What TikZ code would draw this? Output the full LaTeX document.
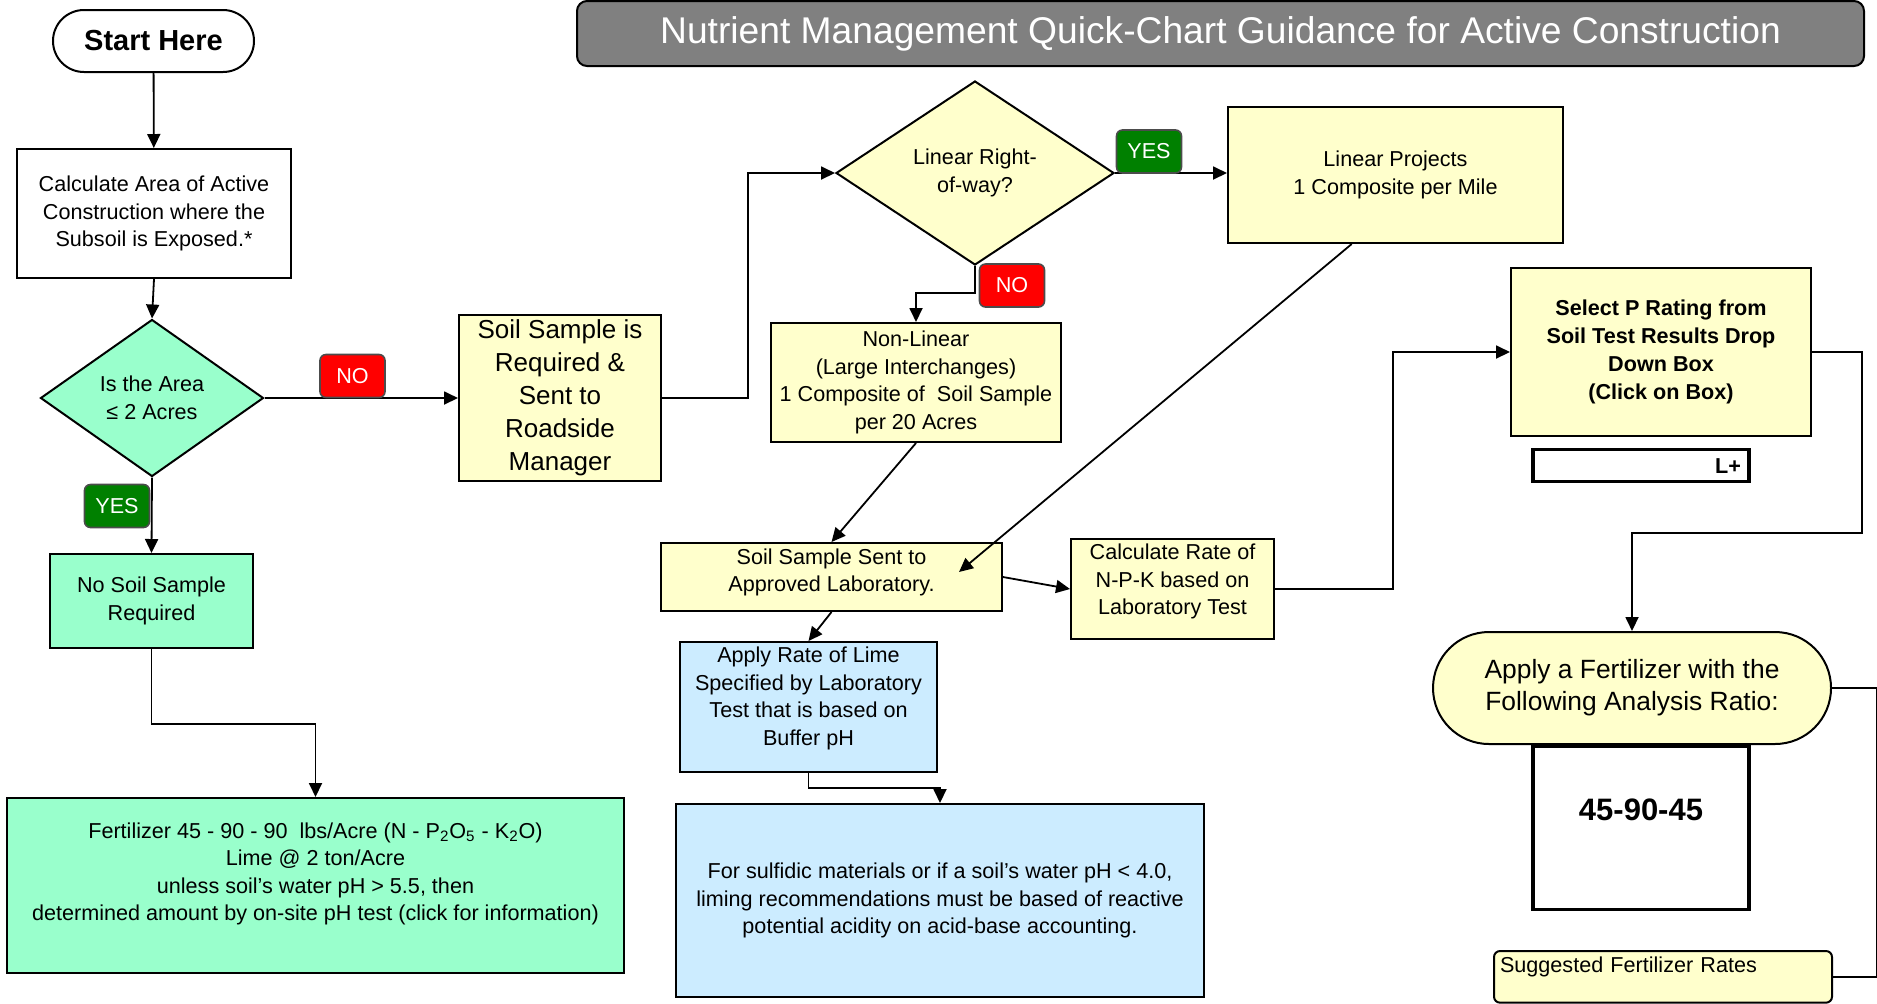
\documentclass[tikz,border=0pt]{standalone}
\usepackage{fontspec}
\setmainfont{Liberation Sans}
\usetikzlibrary{shapes.geometric, arrows.meta, positioning, calc}

\definecolor{aqua}{HTML}{99FFCC}
\definecolor{cream}{HTML}{FFFFCC}
\definecolor{sky}{HTML}{CCECFF}
\definecolor{titlegray}{HTML}{808080}
\definecolor{okgreen}{HTML}{008000}

\begin{document}
\begin{tikzpicture}[
    x=0.5pt, y=-0.5pt,
    % Define styles
    box/.style={rectangle, draw=black, line width=1pt, align=center, inner sep=1pt, font=\fontsize{10.8}{13.75}\selectfont},
    aquabox/.style={box, fill=aqua},
    creambox/.style={box, fill=cream},
    bluebox/.style={box, fill=sky},
    inputbox/.style={box, fill=white, line width=1.6pt, font=\bfseries\fontsize{10.8}{13.75}\selectfont},
    decision/.style={diamond, draw=black, line width=1pt, align=center, inner sep=0pt, font=\fontsize{10.8}{13.75}\selectfont},
    terminal/.style={rectangle, rounded corners=15.5pt, draw=black, line width=1pt, fill=white, align=center, font=\bfseries\fontsize{14.5}{17}\selectfont},
    titlebar/.style={rectangle, rounded corners=5pt, draw=black, line width=1pt, fill=titlegray, text=white, font=\fontsize{18.6}{22}\selectfont},
    tag/.style={rectangle, rounded corners=3pt, draw=black!70, line width=0.8pt, text=white, minimum width=32.5pt, minimum height=21.5pt, inner sep=0pt, font=\fontsize{10.8}{13}\selectfont},
    line/.style={draw=black, line width=0.9pt},
    arrow/.style={line, -{Triangle[length=7pt, width=6.5pt]}},
    ]

    \useasboundingbox (0,0) rectangle (1877,1003);

    % Title
    \node[titlebar, minimum width=643.5pt, minimum height=32.5pt] (title) at (1220.5,33.5) {Nutrient Management Quick-Chart Guidance for Active Construction};

    % Left column
    \node[terminal, minimum width=100.5pt, minimum height=31pt] (start) at (153.5,41) {Start Here};
    \node[box, fill=white, minimum width=137pt, minimum height=64.5pt] (calc) at (154,213.5) {Calculate Area of Active\\Construction where the\\Subsoil is Exposed.*};
    \node[decision, fill=aqua, minimum width=111.5pt, minimum height=78.5pt, aspect=1.42] (area) at (152,398) {Is the Area\\≤ 2 Acres};
    \node[aquabox, minimum width=101.5pt, minimum height=47pt] (nosample) at (151.5,601) {No Soil Sample\\Required};
    \node[aquabox, minimum width=308.5pt, minimum height=87.5pt] (fert) at (315.5,885.5) {Fertilizer 45 - 90 - 90~ lbs/Acre (N - P\textsubscript{2}O\textsubscript{5} - K\textsubscript{2}O)\\Lime @ 2 ton/Acre\\unless soil’s water pH > 5.5, then\\determined amount by on-site pH test (click for information)\\~};

    % Sampling branch
    \node[creambox, minimum width=101pt, minimum height=83pt, font=\fontsize{13}{16.5}\selectfont] (required) at (560,398) {Soil Sample is\\Required \&\\Sent to\\Roadside\\Manager};
    \node[decision, fill=cream, minimum width=139pt, minimum height=92pt, aspect=1.51] (row) at (975,173) {Linear Right-\\of-way?};
    \node[creambox, minimum width=167.5pt, minimum height=68pt] (linear) at (1395.5,175) {Linear Projects\\1 Composite per Mile};
    \node[creambox, minimum width=145pt, minimum height=59.5pt] (nonlinear) at (916,382.5) {Non-Linear\\(Large Interchanges)\\1 Composite of~ Soil Sample\\per 20 Acres};
    \node[creambox, minimum width=170.5pt, minimum height=34pt] (sent) at (831.5,577) {Soil Sample Sent to\\Approved Laboratory.\\[-7pt]~};
    \node[creambox, minimum width=101.5pt, minimum height=50pt] (npk) at (1172.5,589) {Calculate Rate of\\N-P-K based on\\Laboratory Test\\[-4pt]~};
    \node[bluebox, minimum width=128.5pt, minimum height=65pt] (lime) at (808.5,707) {Apply Rate of Lime\\Specified by Laboratory\\Test that is based on\\Buffer pH\\[-3pt]~};
    \node[bluebox, minimum width=264pt, minimum height=96.5pt] (sulfidic) at (940,900.5) {For sulfidic materials or if a soil’s water pH < 4.0,\\liming recommendations must be based of reactive\\potential acidity on acid-base accounting.};

    % Right column
    \node[creambox, minimum width=150pt, minimum height=84pt, font=\bfseries\fontsize{10.8}{14}\selectfont] (prate) at (1661,352) {Select P Rating from\\Soil Test Results Drop\\Down Box\\(Click on Box)};
    \node[inputbox, minimum height=16pt, text width=100pt, inner xsep=4pt, inner ysep=0pt, align=right, below=5.5pt of prate, xshift=-10pt] (lplus) {L+};
    \node[terminal, fill=cream, minimum width=199pt, minimum height=56pt, rounded corners=28pt, font=\fontsize{13.2}{16}\selectfont] (apply) at (1632,688) {Apply a Fertilizer with the\\Following Analysis Ratio:};
    \node[inputbox, minimum width=108pt, minimum height=81.5pt, font=\bfseries\fontsize{15.5}{18.5}\selectfont, below=0pt of apply, xshift=4.5pt] (ratio) {45-90-45\\~};
    \node[creambox, rounded corners=3pt, anchor=north west, text width=163pt, align=left, inner sep=3pt, text depth=12pt] (suggested) at (1493,950) {Suggested Fertilizer Rates};

    % Arrows
    \draw[arrow] (start) -- (calc);
    \draw[arrow] (calc.south) -- (area.north);
    \draw[arrow] (area.east) -- (required.west);
    \draw[arrow] (area.south) -- (nosample.north);
    \draw[arrow] (nosample.south) -- ++(0,75) -| (fert.north);

    \draw[arrow] (required.east) -- ++(86,0) |- (row.west);
    \draw[arrow] (row.east) -- (row.east -| linear.west);
    \draw[arrow] (row.south) -- ++(0,27) -| (nonlinear.north);
    \draw[arrow] (nonlinear.south) -- (sent.north);

    \coordinate (linear-out) at ($(linear.south west)!0.37!(linear.south east)$);
    \coordinate (sent-in) at (959,572);
    \draw[arrow] (linear-out) -- (sent-in);

    \draw[arrow] (sent.east) -- (npk.west);
    \draw[arrow] (sent.south) -- (lime.north);
    \draw[arrow] (lime.south) -- ++(0,15) -| (sulfidic.north);

    \draw[arrow] (npk.east) -- ++(118,0) |- (prate.west);
    \draw[arrow] (prate.east) -- ++(50,0) -- ++(0,181) -| (apply.north);
    \draw[line] (apply.east) -- ++(45,0) |- (suggested.east);

    % Branch tags
    \node[tag, fill=red] (noA) at (352.5,376) {NO};
    \node[tag, fill=okgreen] (yesA) at (117,506) {YES};
    \node[tag, fill=okgreen] (yesB) at (1149,151.5) {YES};
    \node[tag, fill=red] (noB) at (1012,285.5) {NO};

\end{tikzpicture}
\end{document}
